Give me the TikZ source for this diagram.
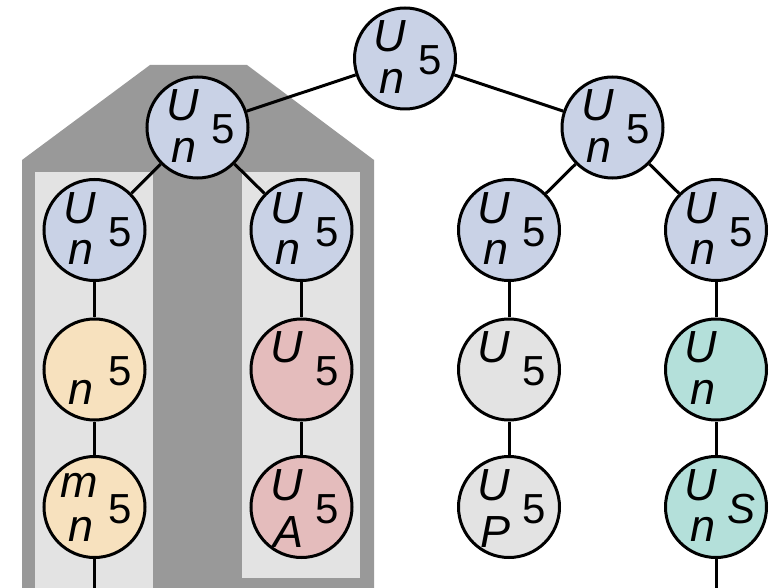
\documentclass[tikz,border=0pt]{standalone}
\usepackage{fontspec}
\setmainfont{Liberation Sans}
\definecolor{cblue}{RGB}{201,210,230}
\definecolor{corange}{RGB}{247,225,190}
\definecolor{cpink}{RGB}{228,188,188}
\definecolor{cgrey}{RGB}{227,227,227}
\definecolor{cteal}{RGB}{180,224,218}
\definecolor{cdark}{RGB}{153,153,153}
\definecolor{clight}{RGB}{227,227,227}
\tikzset{
  tn/.style={circle, draw=black, line width=3pt, minimum size=101pt, inner sep=0pt},
  edge/.style={draw=black, line width=3pt},
  gl/.style={inner sep=0pt, anchor=center, font=\fontsize{45}{45}\selectfont\itshape},
  gr/.style={inner sep=0pt, anchor=center, font=\fontsize{42}{42}\selectfont},
}
% #1 node name, #2 top letter, #3 bottom letter, #4 bottom y offset, #5 right char
\newcommand\glyphset[5]{%
  \node[gl] (#1u) at ([shift={(-15,-22)}]#1.center) {#2};
  \node[gl] (#1d) at ([shift={(-13,#4)}]#1.center) {#3};
  \node[gr] (#1r) at ([shift={(25.5,2)}]#1.center) {#5};
}
\begin{document}
\begin{tikzpicture}[x=1pt,y=-1pt]
\useasboundingbox (0,0) rectangle (780,588);
% background panels
\fill[cdark] (22,588) -- (22,160) -- (150,65) -- (247,65) -- (374,160) -- (374,588) -- cycle;
\fill[clight] (35,172) rectangle (153,588);
\fill[clight] (242,172) rectangle (360,578);
% nodes
\node[tn, fill=cblue] (r) at (405,58.5) {};
\node[tn, fill=cblue] (a) at (197.5,127.5) {};
\node[tn, fill=cblue] (b) at (612.5,127.5) {};
\node[tn, fill=cblue] (a1) at (94.5,230) {};
\node[tn, fill=cblue] (a2) at (301.5,230) {};
\node[tn, fill=cblue] (b1) at (509,230) {};
\node[tn, fill=cblue] (b2) at (716,230) {};
\node[tn, fill=corange] (a1x) at (94.5,369.5) {};
\node[tn, fill=corange] (a1y) at (94.5,507) {};
\node[tn, fill=cpink] (a2x) at (301.5,369.5) {};
\node[tn, fill=cpink] (a2y) at (301.5,507) {};
\node[tn, fill=cgrey] (b1x) at (509,369.5) {};
\node[tn, fill=cgrey] (b1y) at (509,507) {};
\node[tn, fill=cteal] (b2x) at (716,369.5) {};
\node[tn, fill=cteal] (b2y) at (716,507) {};
\coordinate (e1) at (94.5,588);
\coordinate (e2) at (716,588);
% connectors
\draw[edge] (r) -- (a);
\draw[edge] (r) -- (b);
\draw[edge] (a) -- (a1);
\draw[edge] (a) -- (a2);
\draw[edge] (b) -- (b1);
\draw[edge] (b) -- (b2);
\draw[edge] (a1) -- (a1x);
\draw[edge] (a1x) -- (a1y);
\draw[edge] (a1y) -- (e1);
\draw[edge] (a2) -- (a2x);
\draw[edge] (a2x) -- (a2y);
\draw[edge] (b1) -- (b1x);
\draw[edge] (b1x) -- (b1y);
\draw[edge] (b2) -- (b2x);
\draw[edge] (b2x) -- (b2y);
\draw[edge] (b2y) -- (e2);
% texts
\glyphset{r}{U}{n}{22.5}{5}
\glyphset{a}{U}{n}{22.5}{5}
\glyphset{b}{U}{n}{22.5}{5}
\glyphset{a1}{U}{n}{22.5}{5}
\glyphset{a2}{U}{n}{22.5}{5}
\glyphset{b1}{U}{n}{22.5}{5}
\glyphset{b2}{U}{n}{22.5}{5}
\glyphset{a1x}{}{n}{22.5}{5}
\glyphset{a1y}{m}{n}{22.5}{5}
\glyphset{a2x}{U}{}{22.5}{5}
\glyphset{a2y}{U}{A}{25}{5}
\glyphset{b1x}{U}{}{22.5}{5}
\glyphset{b1y}{U}{P}{25}{5}
\glyphset{b2x}{U}{n}{22.5}{}
\glyphset{b2y}{U}{n}{22.5}{\itshape S}
\end{tikzpicture}
\end{document}
